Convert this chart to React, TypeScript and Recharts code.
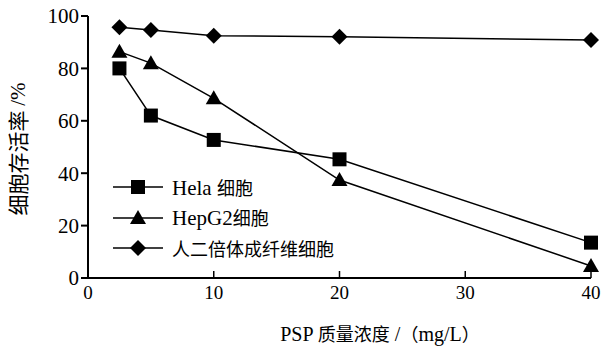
import React from 'react';
import { LineChart, Line, XAxis, YAxis, Label } from 'recharts';

// PSP concentration (mg/L) and cell survival (%)
const concentrations = [2.5, 5, 10, 20, 40];
const helaValues = [80, 62, 52.7, 45.3, 13.5];
const hepg2Values = [86.4, 82, 68.6, 37.4, 4.6];
const fibroblastValues = [95.7, 94.7, 92.5, 92.1, 90.8];

const xTicks = [0, 10, 20, 30, 40];
const yTicks = [0, 20, 40, 60, 80, 100];

const seriesNames = ['Hela 细胞', 'HepG2细胞', '人二倍体成纤维细胞'];

const data = concentrations.map((c, i) => ({
    conc: c,
    hela: helaValues[i],
    hepg2: hepg2Values[i],
    fibro: fibroblastValues[i],
}));

const FONT = "'Liberation Serif', 'Noto Sans CJK SC', serif";
const CJK_FONT = "'Noto Sans CJK SC', sans-serif";

const Square = ({ cx, cy, s = 7 }: any) => (
    <rect x={cx - s} y={cy - s} width={s * 2} height={s * 2} fill="#000" />
);
const Triangle = ({ cx, cy, s = 8 }: any) => (
    <polygon points={`${cx},${cy - s} ${cx + s},${cy + s * 0.75} ${cx - s},${cy + s * 0.75}`} fill="#000" />
);
const Diamond = ({ cx, cy, s = 8 }: any) => (
    <polygon points={`${cx},${cy - s} ${cx + s},${cy} ${cx},${cy + s} ${cx - s},${cy}`} fill="#000" />
);

const markers = [Square, Triangle, Diamond];

const XTick = (props: any) => {
    const { x, y, payload } = props;
    return (
        <g>
            {payload.value !== 0 && <line x1={x} y1={y} x2={x} y2={y - 7} stroke="#000" strokeWidth={1.5} />}
            <text x={x} y={y + 21} textAnchor="middle" fontSize={19} fontFamily={FONT} fill="#000">
                {payload.value}
            </text>
        </g>
    );
};

const ChartLegend = () => (
    <div style={{ position: 'absolute', left: 113, top: 172, display: 'flex', flexDirection: 'column' }}>
        {seriesNames.map((name, i) => {
            const M = markers[i];
            const latin = name.match(/^[A-Za-z0-9 ]*/)?.[0] ?? '';
            const cjk = name.slice(latin.length);
            return (
                <div key={name} style={{ display: 'flex', alignItems: 'center', height: 30.5 }}>
                    <svg width={50} height={20} style={{ overflow: 'visible' }}>
                        <line x1={0} y1={10} x2={50} y2={10} stroke="#000" strokeWidth={1.5} />
                        <M cx={25} cy={10} />
                    </svg>
                    <span style={{ marginLeft: 9, fontFamily: FONT, fontSize: 21, color: '#000', whiteSpace: 'nowrap' }}>
                        {latin}
                        <span style={{ fontFamily: CJK_FONT, fontSize: 18 }}>{cjk}</span>
                    </span>
                </div>
            );
        })}
    </div>
);

export default function App() {
    const seriesKeys = ['hela', 'hepg2', 'fibro'];
    return (
        <div style={{ position: 'fixed', left: 0, top: 0, width: 607, height: 347, background: '#fff' }}>
            <LineChart width={607} height={347} data={data} margin={{ top: 16, right: 16, bottom: 0, left: 0 }}>
                <XAxis
                    dataKey="conc"
                    type="number"
                    domain={[0, 40]}
                    ticks={xTicks}
                    tickLine={false}
                    tickSize={0}
                    tickMargin={0}
                    tick={<XTick />}
                    height={69}
                    stroke="#000"
                    strokeWidth={2}
                    interval={0}
                >
                    <Label
                        content={() => (
                            <text x={380} y={341} textAnchor="middle" fontSize={20} fontFamily={FONT} fill="#000">
                                PSP <tspan fontFamily={CJK_FONT} fontSize={18}>质量浓度</tspan> /
                                <tspan fontFamily={CJK_FONT} fontSize={18}>（</tspan>mg/L
                                <tspan fontFamily={CJK_FONT} fontSize={18}>）</tspan>
                            </text>
                        )}
                    />
                </XAxis>
                <YAxis
                    type="number"
                    domain={[0, 100]}
                    ticks={yTicks}
                    width={88}
                    tickSize={7}
                    tickMargin={2}
                    stroke="#000"
                    strokeWidth={2}
                    tick={{ fill: '#000', fontSize: 21, fontFamily: FONT }}
                    interval={0}
                >
                    <Label
                        content={() => (
                            <text
                                x={20}
                                y={149}
                                transform="rotate(-90 20 149)"
                                textAnchor="middle"
                                dominantBaseline="middle"
                                fontSize={21}
                                fontFamily={CJK_FONT}
                                fill="#000"
                            >
                                细胞存活率 <tspan fontFamily={FONT}>/%</tspan>
                            </text>
                        )}
                    />
                </YAxis>
                {seriesKeys.map((key, i) => {
                    const M = markers[i];
                    return (
                        <Line
                            key={key}
                            dataKey={key}
                            name={seriesNames[i]}
                            type="linear"
                            stroke="#000"
                            strokeWidth={1.5}
                            dot={(p: any) => <M key={`${key}-${p.index}`} cx={p.cx} cy={p.cy} />}
                            activeDot={false}
                            isAnimationActive={false}
                        />
                    );
                })}
            </LineChart>
            <ChartLegend />
        </div>
    );
}
